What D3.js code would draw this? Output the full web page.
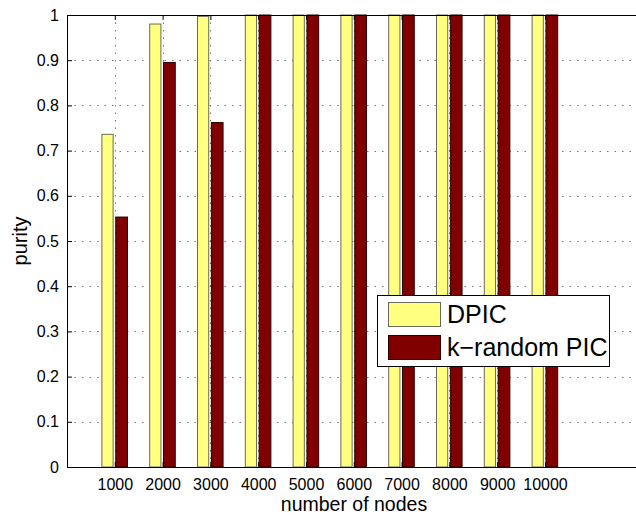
<!DOCTYPE html>
<html>
<head>
<meta charset="utf-8">
<script src="https://cdn.jsdelivr.net/npm/d3@7"></script>
<style>
  html, body { margin: 0; padding: 0; background: #fff; }
  svg { display: block; font-family: "Liberation Sans", Arial, Helvetica, sans-serif; }
</style>
</head>
<body>
<svg id="chart" width="636" height="515"></svg>
<script>
const categories = ["1000", "2000", "3000", "4000", "5000", "6000", "7000", "8000", "9000", "10000"];
const dpic = [0.736, 0.980, 0.997, 1, 1, 1, 1, 1, 1, 1];
const kRandomPic = [0.553, 0.895, 0.762, 1, 1, 1, 1, 1, 1, 1];
const yTicks = [0, 0.1, 0.2, 0.3, 0.4, 0.5, 0.6, 0.7, 0.8, 0.9, 1];
const seriesNames = ["DPIC", "k\u2212random PIC"];
const colors = ["#ffff80", "#800000"];
const edges = ["#6a6a5a", "#2a0000"];

(function () {
const svg = d3.select("#chart");
const mLeft = 67, mTop = 15, mBottom = 467;
const x = d3.scaleLinear().domain([0, 12]).range([mLeft, mLeft + 12 * 47.8]);
const y = d3.scaleLinear().domain([0, 1]).range([mBottom, mTop]);
const mRight = x(12);

// grid
const grid = svg.append("g");
grid.selectAll("line.h").data(yTicks.filter(d => d > 0 && d < 1)).enter().append("line")
  .attr("x1", mLeft).attr("x2", mRight)
  .attr("y1", d => Math.round(y(d)) + 0.5).attr("y2", d => Math.round(y(d)) + 0.5)
  .attr("stroke", "#777").attr("stroke-width", 1).attr("stroke-dasharray", "1.5,6");
grid.selectAll("line.v").data(categories).enter().append("line")
  .attr("x1", (d, i) => Math.round(x(i + 1)) + 0.5).attr("x2", (d, i) => Math.round(x(i + 1)) + 0.5)
  .attr("y1", mTop).attr("y2", mBottom)
  .attr("stroke", "#777").attr("stroke-width", 1).attr("stroke-dasharray", "1.5,6");

// bars
const series = [dpic, kRandomPic];
const offsets = [-0.27, 0.02];
const widths = [0.235, 0.245];
series.forEach((vals, s) => {
  svg.append("g").selectAll("rect").data(vals).enter().append("rect")
    .attr("x", (d, i) => x(i + 1 + offsets[s]))
    .attr("width", x(widths[s]) - x(0))
    .attr("y", d => y(d))
    .attr("height", d => y(0) - y(d))
    .attr("fill", colors[s])
    .attr("stroke", edges[s]).attr("stroke-width", 1);
});

// axes
const yAxisL = d3.axisLeft(y).tickValues(yTicks).tickSizeInner(-5).tickSizeOuter(0)
  .tickPadding(8).tickFormat(d => d3.format("")(d));
const gy = svg.append("g").attr("transform", `translate(${mLeft},0)`).call(yAxisL);
gy.attr("font-size", 16).attr("font-family", "Liberation Sans, Arial, sans-serif");
gy.selectAll("text").attr("fill", "#000");
gy.select(".domain").remove();

const xAxisB = d3.axisBottom(x).tickValues(d3.range(1, 11)).tickSizeInner(-5).tickSizeOuter(0)
  .tickPadding(12).tickFormat((d, i) => categories[i]);
const gx = svg.append("g").attr("transform", `translate(0,${mBottom})`).call(xAxisB);
gx.attr("font-size", 16).attr("font-family", "Liberation Sans, Arial, sans-serif");
gx.selectAll("text").attr("fill", "#000");
gx.select(".domain").remove();

const xAxisT = d3.axisTop(x).tickValues(d3.range(1, 11)).tickSizeInner(-5).tickSizeOuter(0).tickFormat("");
const gt = svg.append("g").attr("transform", `translate(0,${mTop})`).call(xAxisT);
gt.select(".domain").remove();

// box
svg.append("rect").attr("x", mLeft + 0.5).attr("y", mTop + 0.5)
  .attr("width", mRight - mLeft).attr("height", mBottom - mTop)
  .attr("fill", "none").attr("stroke", "#000").attr("stroke-width", 1);

// labels
svg.append("text").attr("x", 354).attr("y", 511)
  .attr("text-anchor", "middle").attr("font-size", "19.5px").text("number of nodes");
svg.append("text").attr("transform", `translate(27,${(mTop + mBottom) / 2}) rotate(-90)`)
  .attr("text-anchor", "middle").attr("font-size", "20px").text("purity");

// legend
const lg = svg.append("g");
lg.append("rect").attr("x", 377.5).attr("y", 295.5).attr("width", 232).attr("height", 71)
  .attr("fill", "#fff").attr("stroke", "#000").attr("stroke-width", 1);
seriesNames.forEach((name, i) => {
  const yy = 302 + i * 33;
  lg.append("rect").attr("x", 388.5).attr("y", yy + 0.5).attr("width", 52).attr("height", 24)
    .attr("fill", colors[i]).attr("stroke", edges[i]).attr("stroke-width", 1);
  lg.append("text").attr("x", 447).attr("y", yy + 21).attr("font-size", "25px").text(name);
});
})();
</script>
</body>
</html>
